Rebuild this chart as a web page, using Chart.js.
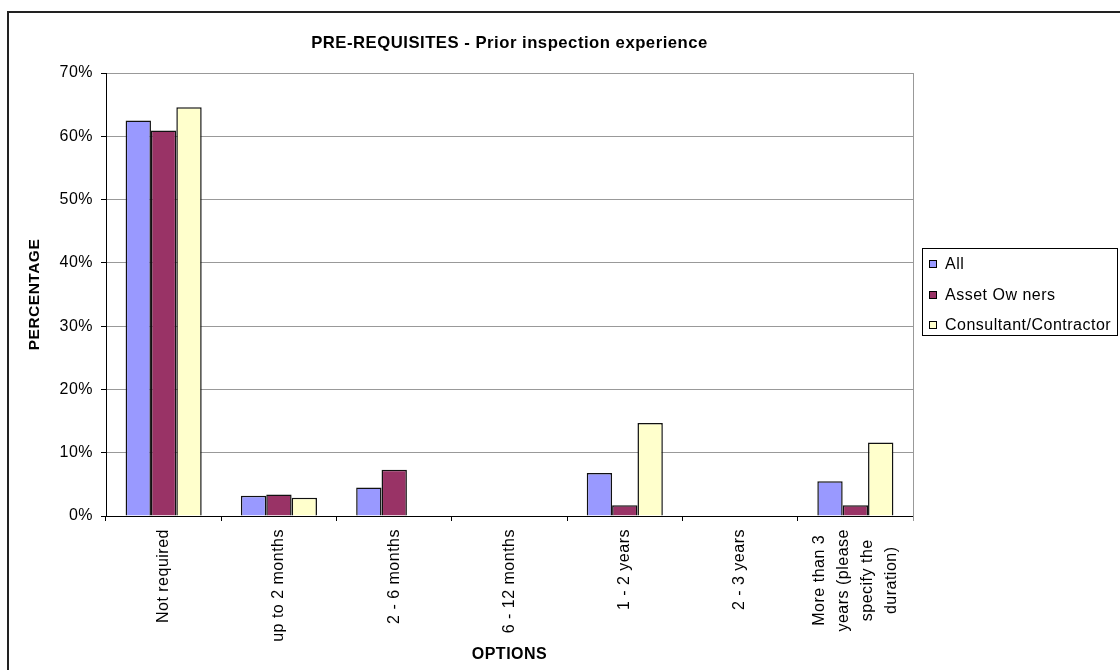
<!DOCTYPE html>
<html>
<head>
<meta charset="utf-8">
<script src="https://cdn.jsdelivr.net/npm/chart.js@4/dist/chart.umd.min.js"></script>
<style>
  html, body { margin: 0; padding: 0; background: #fff; }
  #wrap { position: relative; width: 1120px; height: 670px; }
</style>
</head>
<body>
<div id="wrap"><canvas id="c" width="1120" height="670"></canvas></div>
<script>
const categories = [
  'Not required',
  'up to 2 months',
  '2 - 6 months',
  '6 - 12 months',
  '1 - 2 years',
  '2 - 3 years',
  ['More than 3', 'years (please', 'specify the', 'duration)']
];
const seriesNames = ['All', 'Asset Ow ners', 'Consultant/Contractor'];
const allValues        = [62.5, 3.2, 4.5, 0, 6.8, 0, 5.5];
const assetOwnerValues = [60.9, 3.4, 7.3, 0, 1.7, 0, 1.7];
const consultantValues = [64.6, 2.9, 0, 0, 14.7, 0, 11.6];
const yTicks = [0, 10, 20, 30, 40, 50, 60, 70];
const seriesColors = ['#9999FF', '#993366', '#FFFFCC'];

const FONT = "'Liberation Sans', Arial, sans-serif";

const frameAndLegend = {
  id: 'frameAndLegend',
  beforeUpdate(chart) {
    chart.ctx.letterSpacing = '0.5px';
  },
  beforeDraw(chart) {
    const ctx = chart.ctx;
    ctx.save();
    ctx.fillStyle = '#fff';
    ctx.fillRect(0, 0, chart.width, chart.height);
    ctx.restore();
    // centre the multi-line category label on its tick, lines centred
    const s = chart.scales.x;
    const items = s.getLabelItems();
    items.forEach((it, idx) => {
      if (Array.isArray(it.label) && it.options.textAlign !== 'center') {
        ctx.save();
        ctx.font = it.font.string;
        const maxW = Math.max(...it.label.map(t => ctx.measureText(t).width));
        ctx.restore();
        const lh = it.font.lineHeight;
        const n = it.label.length;
        const pixel = s.getPixelForTick(idx);
        it.options.textAlign = 'center';
        it.options.translation = [pixel - lh / 2 - (n - 1) / 2 * lh, it.options.translation[1] + maxW / 2];
      }
    });
  },
  afterDraw(chart) {
    const ctx = chart.ctx;
    const a = chart.chartArea;
    ctx.save();
    // plot area right border
    ctx.strokeStyle = '#999';
    ctx.lineWidth = 1;
    ctx.beginPath();
    ctx.moveTo(Math.round(a.right) + 0.5, a.top);
    ctx.lineTo(Math.round(a.right) + 0.5, a.bottom + 5);
    ctx.stroke();
    // outer frame
    ctx.strokeStyle = '#222';
    ctx.lineWidth = 2;
    ctx.beginPath();
    ctx.moveTo(8, chart.height + 5);
    ctx.lineTo(8, 12);
    ctx.lineTo(chart.width + 5, 12);
    ctx.stroke();
    // legend
    const lx = 922, ly = 248, lw = 195, lh = 87;
    ctx.strokeStyle = '#000';
    ctx.lineWidth = 1;
    ctx.strokeRect(lx + 0.5, ly + 0.5, lw, lh);
    ctx.font = '16px ' + FONT;
    ctx.textBaseline = 'middle';
    ctx.textAlign = 'left';
    const rowY = [264, 295, 325];
    chart.data.datasets.forEach((ds, i) => {
      const y = rowY[i];
      ctx.fillStyle = ds.backgroundColor;
      ctx.fillRect(929, y - 4, 8, 8);
      ctx.strokeStyle = '#000';
      ctx.strokeRect(929.5, y - 3.5, 7, 7);
      ctx.fillStyle = '#000';
      ctx.fillText(ds.label, 945, y + 1);
    });
    ctx.restore();
  }
};

new Chart(document.getElementById('c'), {
  type: 'bar',
  data: {
    labels: categories,
    datasets: [
      { label: seriesNames[0], data: allValues, backgroundColor: seriesColors[0] },
      { label: seriesNames[1], data: assetOwnerValues, backgroundColor: seriesColors[1] },
      { label: seriesNames[2], data: consultantValues, backgroundColor: seriesColors[2] }
    ].map(d => Object.assign(d, {
      borderColor: '#111',
      borderWidth: 1.5,
      categoryPercentage: 0.66,
      barPercentage: 1.0
    }))
  },
  options: {
    responsive: false,
    animation: false,
    devicePixelRatio: 1,
    layout: { padding: { left: 0, right: 207, top: 0, bottom: 0 } },
    plugins: {
      legend: { display: false },
      tooltip: { enabled: false },
      title: {
        display: true,
        text: 'PRE-REQUISITES - Prior inspection experience',
        color: '#000',
        fullSize: false,
        font: { family: FONT, size: 16.7, weight: 'bold', lineHeight: 1.2 },
        padding: { top: 33, bottom: 20 }
      }
    },
    scales: {
      x: {
        grid: {
          offset: true,
          drawOnChartArea: false,
          drawTicks: true,
          tickLength: 5,
          tickColor: '#000'
        },
        border: { color: '#000', width: 1 },
        ticks: {
          autoSkip: false,
          minRotation: 90,
          maxRotation: 90,
          padding: 8,
          color: '#000',
          font: { family: FONT, size: 16, lineHeight: 1.5 }
        },
        title: {
          display: true,
          text: 'OPTIONS',
          color: '#000',
          font: { family: FONT, size: 16, weight: 'bold', lineHeight: 1.2 },
          padding: { top: 0, bottom: 5.4 }
        },
        afterFit(s) { s.height = 154; }
      },
      y: {
        min: 0,
        max: 70,
        afterBuildTicks(s) { s.ticks = yTicks.map(v => ({ value: v })); },
        grid: {
          color: '#999',
          tickColor: '#000',
          tickLength: 5,
          drawTicks: true
        },
        border: { color: '#000', width: 1 },
        ticks: {
          padding: 8,
          color: '#000',
          font: { family: FONT, size: 16 },
          callback: v => v + '%'
        },
        title: {
          display: true,
          text: 'PERCENTAGE',
          color: '#000',
          font: { family: FONT, size: 15.5, weight: 'bold', lineHeight: 1.2 },
          padding: { top: 25.7, bottom: 0 }
        },
        afterFit(s) { s.width = 106; }
      }
    }
  },
  plugins: [frameAndLegend]
});
</script>
</body>
</html>
